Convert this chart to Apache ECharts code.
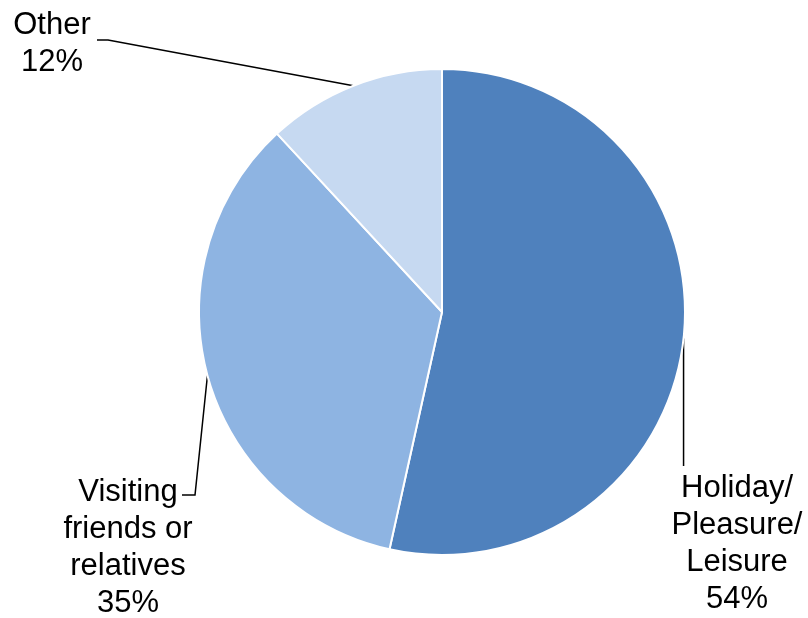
<!DOCTYPE html>
<html>
<head>
<meta charset="utf-8">
<script src="https://cdn.jsdelivr.net/npm/echarts@6/dist/echarts.min.js"></script>
<style>
  html, body { margin: 0; padding: 0; background: #fff; }
  #chart { width: 808px; height: 618px; }
</style>
</head>
<body>
<div id="chart"></div>
<script>
// Purpose of visit shares
const categories = ['Holiday/\nPleasure/\nLeisure', 'Visiting\nfriends or\nrelatives', 'Other'];
const values = [54, 35, 12];
const colors = ['#4F81BD', '#8EB4E2', '#C6D9F1'];

// Label block centres and leader-line elbows for each slice
const labelSpots = [
  { x: 737, y: 544, elbow: null },
  { x: 128, y: 548, elbow: [[195, 495], [182, 495]] },
  { x: 52, y: 44, elbow: [[108, 40], [97, 40]] }
];

const chart = echarts.init(document.getElementById('chart'), null, { renderer: 'canvas' });

chart.setOption({
  animation: false,
  series: [{
    type: 'pie',
    center: [442, 312],
    radius: 243,
    startAngle: 90,
    clockwise: true,
    avoidLabelOverlap: false,
    data: categories.map((name, i) => ({
      name: name,
      value: values[i],
      itemStyle: { color: colors[i] }
    })),
    itemStyle: { borderColor: '#ffffff', borderWidth: 2 },
    label: {
      show: true,
      position: 'outside',
      formatter: p => p.name + '\n' + p.value + '%',
      color: '#000',
      fontFamily: 'Liberation Sans, Arial, sans-serif',
      fontSize: 31,
      lineHeight: 37,
      align: 'center'
    },
    labelLine: {
      show: true,
      smooth: false,
      lineStyle: { color: '#000', width: 1.5 }
    },
    labelLayout: function (params) {
      const spot = labelSpots[params.dataIndex];
      const start = params.labelLinePoints[0];
      let pts;
      if (spot.elbow) {
        pts = [start, spot.elbow[0], spot.elbow[1]];
      } else {
        pts = [start, [start[0], (start[1] + 466) / 2], [start[0], 466]];
      }
      return {
        x: spot.x,
        y: spot.y,
        align: 'center',
        verticalAlign: 'middle',
        labelLinePoints: pts
      };
    },
    emphasis: { disabled: true }
  }]
});
</script>
</body>
</html>
